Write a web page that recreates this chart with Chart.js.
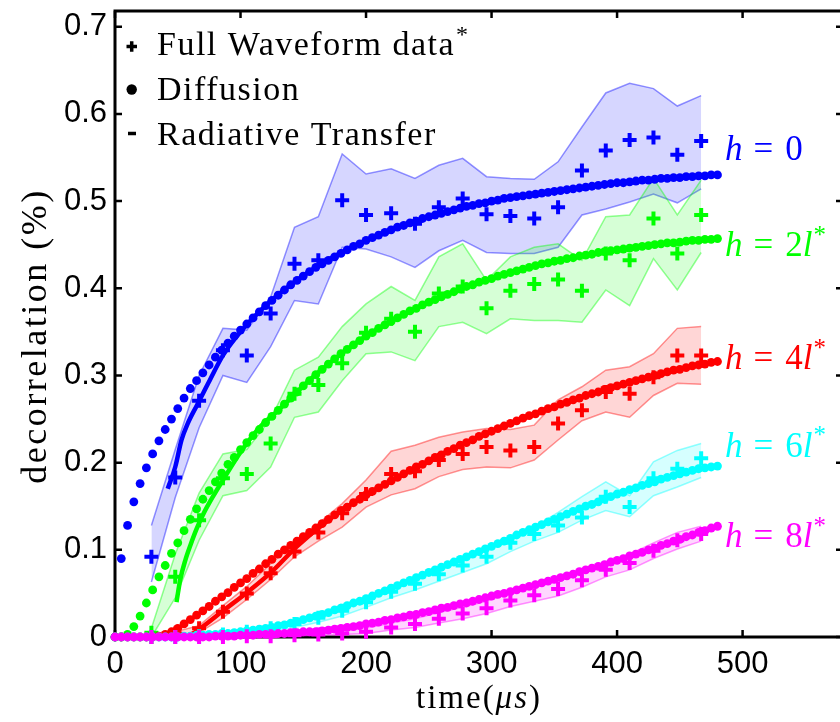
<!DOCTYPE html>
<html>
<head>
<meta charset="utf-8">
<title>Decorrelation versus time</title>
<style>
html, body {
	margin: 0;
	padding: 0;
	overflow: hidden;
	background: #fff;
}
#wrap {
	width: 843px;
	height: 722px;
}
</style>
</head>
<body>
<div id="wrap"><canvas id="chart" width="843" height="722"></canvas></div>
<script src="https://cdn.jsdelivr.net/npm/chart.js@4.4.1/dist/chart.umd.min.js"></script>
<script>
// times (us) of the full waveform measurements and of the diffusion curve
var waveTimes = [29, 48, 67, 86, 105, 124, 143, 162, 181, 200, 220, 239, 258, 277, 296, 315, 334, 353, 372, 391, 410, 429, 448, 467];
var diffTimes = [0, 5, 10, 15, 20, 25, 30, 35, 40, 45, 50, 55, 60, 65, 70, 75, 80, 85, 90, 95,
	100, 105, 110, 115, 120, 125, 130, 135, 140, 145, 150, 155, 160, 165, 170, 175, 180, 185, 190, 195,
	200, 205, 210, 215, 220, 225, 230, 235, 240, 245, 250, 255, 260, 265, 270, 275, 280, 285, 290, 295,
	300, 305, 310, 315, 320, 325, 330, 335, 340, 345, 350, 355, 360, 365, 370, 375, 380, 385, 390, 395,
	400, 405, 410, 415, 420, 425, 430, 435, 440, 445, 450, 455, 460, 465, 470, 475, 480];

// h = 0
var waveH0 = [0.092, 0.183, 0.271, 0.329, 0.323, 0.371, 0.428, 0.432, 0.501, 0.484, 0.486, 0.474, 0.493, 0.503, 0.485, 0.483, 0.480, 0.493, 0.535, 0.558, 0.570, 0.573, 0.553, 0.569];
var upperH0 = [0.128, 0.215, 0.300, 0.354, 0.352, 0.390, 0.470, 0.482, 0.554, 0.531, 0.537, 0.526, 0.541, 0.549, 0.528, 0.526, 0.525, 0.545, 0.585, 0.624, 0.635, 0.629, 0.609, 0.621];
var lowerH0 = [0.063, 0.160, 0.240, 0.300, 0.292, 0.333, 0.386, 0.382, 0.447, 0.445, 0.436, 0.424, 0.443, 0.455, 0.441, 0.440, 0.440, 0.447, 0.484, 0.491, 0.499, 0.508, 0.498, 0.514];
var diffH0 = [0, 0.090, 0.128, 0.155, 0.176, 0.194, 0.210, 0.225, 0.238, 0.250,
	0.262, 0.274, 0.285, 0.294, 0.303, 0.312, 0.321, 0.329, 0.337, 0.345,
	0.352, 0.359, 0.366, 0.373, 0.380, 0.386, 0.392, 0.398, 0.404, 0.409,
	0.414, 0.419, 0.424, 0.428, 0.432, 0.436, 0.440, 0.444, 0.448, 0.451,
	0.455, 0.458, 0.461, 0.464, 0.467, 0.470, 0.472, 0.475, 0.477, 0.480,
	0.482, 0.484, 0.486, 0.488, 0.490, 0.492, 0.494, 0.495, 0.497, 0.498,
	0.500, 0.501, 0.503, 0.504, 0.505, 0.506, 0.507, 0.508, 0.509, 0.510,
	0.511, 0.512, 0.513, 0.514, 0.515, 0.516, 0.517, 0.518, 0.519, 0.520,
	0.521, 0.521, 0.522, 0.523, 0.524, 0.524, 0.525, 0.526, 0.526, 0.527,
	0.527, 0.528, 0.528, 0.529, 0.529, 0.530, 0.530];
var rtTimesH0 = [42, 48, 53, 58, 65, 70, 76, 86, 100, 120, 140, 160, 200, 250, 300, 350, 400, 450, 480];
var rtH0 = [0.170, 0.195, 0.226, 0.245, 0.265, 0.279, 0.296, 0.323, 0.350, 0.380, 0.404, 0.424, 0.455, 0.482, 0.500, 0.511, 0.521, 0.527, 0.530];

// h = 2l*
var waveH2 = [0.005, 0.069, 0.134, 0.182, 0.187, 0.222, 0.279, 0.289, 0.314, 0.349, 0.365, 0.350, 0.394, 0.402, 0.377, 0.397, 0.405, 0.410, 0.397, 0.440, 0.432, 0.480, 0.440, 0.484];
var upperH2 = [0.010, 0.095, 0.165, 0.210, 0.215, 0.250, 0.306, 0.321, 0.356, 0.382, 0.402, 0.386, 0.436, 0.451, 0.409, 0.436, 0.447, 0.451, 0.432, 0.482, 0.484, 0.526, 0.484, 0.524];
var lowerH2 = [0.000, 0.045, 0.111, 0.162, 0.168, 0.195, 0.252, 0.258, 0.294, 0.325, 0.327, 0.317, 0.356, 0.361, 0.348, 0.365, 0.363, 0.363, 0.361, 0.398, 0.380, 0.434, 0.398, 0.441];
var diffH2 = [0, 0, 0.003, 0.012, 0.024, 0.039, 0.054, 0.069, 0.082, 0.096,
	0.108, 0.122, 0.135, 0.147, 0.158, 0.168, 0.178, 0.188, 0.198, 0.206,
	0.215, 0.223, 0.231, 0.238, 0.246, 0.253, 0.260, 0.267, 0.274, 0.281,
	0.288, 0.294, 0.301, 0.307, 0.313, 0.319, 0.325, 0.330, 0.335, 0.340,
	0.345, 0.349, 0.354, 0.358, 0.362, 0.366, 0.370, 0.374, 0.377, 0.381,
	0.384, 0.387, 0.390, 0.393, 0.396, 0.399, 0.402, 0.404, 0.407, 0.409,
	0.411, 0.414, 0.416, 0.418, 0.420, 0.422, 0.424, 0.426, 0.428, 0.429,
	0.431, 0.432, 0.434, 0.435, 0.437, 0.438, 0.439, 0.441, 0.442, 0.443,
	0.444, 0.445, 0.446, 0.447, 0.448, 0.449, 0.450, 0.451, 0.452, 0.452,
	0.453, 0.454, 0.455, 0.455, 0.456, 0.456, 0.457];
var rtTimesH2 = [49, 52, 56, 60, 65, 70, 78, 86, 100, 115, 130, 160, 200, 250, 300, 350, 400, 450, 480];
var rtH2 = [0.040, 0.066, 0.088, 0.105, 0.124, 0.140, 0.161, 0.180, 0.212, 0.240, 0.260, 0.301, 0.345, 0.384, 0.411, 0.431, 0.444, 0.453, 0.457];

// h = 4l*
var waveH4 = [0.000, 0.004, 0.010, 0.029, 0.050, 0.073, 0.098, 0.120, 0.142, 0.164, 0.187, 0.190, 0.203, 0.210, 0.218, 0.214, 0.218, 0.245, 0.260, 0.281, 0.279, 0.298, 0.323, 0.323];
var upperH4 = [0.000, 0.006, 0.013, 0.036, 0.058, 0.084, 0.107, 0.130, 0.153, 0.180, 0.213, 0.220, 0.229, 0.235, 0.239, 0.238, 0.243, 0.272, 0.287, 0.306, 0.310, 0.325, 0.354, 0.356];
var lowerH4 = [0.000, 0.002, 0.005, 0.022, 0.043, 0.066, 0.092, 0.110, 0.126, 0.149, 0.163, 0.170, 0.184, 0.192, 0.195, 0.194, 0.203, 0.226, 0.248, 0.258, 0.252, 0.277, 0.291, 0.290];
var diffH4 = [0, 0, 0, 0, 0, 0, 0, 0.001, 0.003, 0.006,
	0.010, 0.015, 0.020, 0.025, 0.030, 0.035, 0.041, 0.046, 0.051, 0.057,
	0.062, 0.067, 0.073, 0.078, 0.084, 0.089, 0.095, 0.100, 0.105, 0.110,
	0.115, 0.120, 0.125, 0.130, 0.135, 0.140, 0.145, 0.149, 0.154, 0.158,
	0.163, 0.167, 0.171, 0.175, 0.179, 0.183, 0.187, 0.191, 0.195, 0.198,
	0.202, 0.206, 0.209, 0.213, 0.216, 0.220, 0.223, 0.226, 0.230, 0.233,
	0.236, 0.239, 0.242, 0.245, 0.248, 0.251, 0.254, 0.256, 0.259, 0.262,
	0.264, 0.267, 0.269, 0.272, 0.274, 0.277, 0.279, 0.281, 0.284, 0.286,
	0.288, 0.290, 0.292, 0.294, 0.296, 0.298, 0.300, 0.302, 0.304, 0.306,
	0.307, 0.309, 0.311, 0.312, 0.313, 0.315, 0.316];
var rtTimesH4 = [55, 62, 70, 86, 106, 125, 145, 170, 200, 250, 300, 350, 400, 450, 480];
var rtH4 = [0.000, 0.004, 0.012, 0.030, 0.052, 0.075, 0.104, 0.134, 0.163, 0.202, 0.236, 0.264, 0.288, 0.307, 0.316];

// h = 6l*
var waveH6 = [0, 0, 0.001, 0.003, 0.006, 0.010, 0.015, 0.022, 0.030, 0.040, 0.052, 0.061, 0.072, 0.082, 0.092, 0.108, 0.118, 0.128, 0.137, 0.161, 0.149, 0.182, 0.193, 0.205];
var upperH6 = [0, 0, 0.002, 0.004, 0.008, 0.013, 0.019, 0.026, 0.035, 0.046, 0.058, 0.067, 0.079, 0.090, 0.100, 0.114, 0.126, 0.143, 0.161, 0.178, 0.162, 0.201, 0.214, 0.222];
var lowerH6 = [0, 0, 0.000, 0.002, 0.004, 0.007, 0.011, 0.017, 0.024, 0.034, 0.045, 0.054, 0.064, 0.074, 0.084, 0.098, 0.110, 0.120, 0.134, 0.145, 0.138, 0.162, 0.172, 0.183];
var diffH6 = [0, 0, 0, 0, 0, 0, 0, 0, 0, 0,
	0, 0.001, 0.001, 0.002, 0.002, 0.003, 0.003, 0.004, 0.004, 0.005,
	0.006, 0.007, 0.008, 0.009, 0.010, 0.011, 0.013, 0.014, 0.016, 0.018,
	0.020, 0.022, 0.024, 0.026, 0.028, 0.031, 0.033, 0.036, 0.039, 0.041,
	0.044, 0.047, 0.050, 0.053, 0.056, 0.059, 0.062, 0.065, 0.068, 0.071,
	0.074, 0.077, 0.080, 0.083, 0.086, 0.089, 0.092, 0.095, 0.098, 0.101,
	0.104, 0.107, 0.110, 0.113, 0.117, 0.120, 0.123, 0.126, 0.129, 0.132,
	0.135, 0.138, 0.141, 0.144, 0.147, 0.150, 0.152, 0.155, 0.158, 0.161,
	0.164, 0.166, 0.169, 0.171, 0.174, 0.176, 0.178, 0.181, 0.183, 0.185,
	0.187, 0.189, 0.191, 0.193, 0.194, 0.195, 0.196];
var rtTimesH6 = [60, 100, 150, 200, 250, 300, 350, 400, 450, 480];
var rtH6 = [0.000, 0.006, 0.020, 0.044, 0.074, 0.104, 0.135, 0.164, 0.187, 0.196];

// h = 8l*
var waveH8 = [0, 0, 0, 0, 0.001, 0.001, 0.002, 0.003, 0.004, 0.006, 0.011, 0.015, 0.021, 0.027, 0.033, 0.042, 0.048, 0.055, 0.065, 0.077, 0.085, 0.099, 0.111, 0.118];
var upperH8 = [0, 0, 0, 0.001, 0.002, 0.003, 0.004, 0.005, 0.007, 0.010, 0.016, 0.021, 0.028, 0.034, 0.041, 0.050, 0.057, 0.064, 0.074, 0.086, 0.095, 0.108, 0.120, 0.127];
var lowerH8 = [0, 0, 0, 0, 0, 0, 0.001, 0.002, 0.003, 0.004, 0.008, 0.011, 0.016, 0.021, 0.027, 0.035, 0.041, 0.047, 0.057, 0.069, 0.077, 0.090, 0.101, 0.110];
var diffH8 = [0, 0, 0, 0, 0, 0, 0, 0, 0, 0,
	0, 0, 0, 0, 0, 0, 0.001, 0.001, 0.001, 0.001,
	0.002, 0.002, 0.002, 0.003, 0.003, 0.003, 0.004, 0.004, 0.005, 0.005,
	0.006, 0.006, 0.006, 0.007, 0.008, 0.009, 0.010, 0.011, 0.012, 0.013,
	0.015, 0.016, 0.017, 0.019, 0.020, 0.022, 0.023, 0.025, 0.026, 0.028,
	0.029, 0.031, 0.033, 0.034, 0.036, 0.038, 0.039, 0.041, 0.043, 0.045,
	0.047, 0.049, 0.050, 0.052, 0.054, 0.056, 0.058, 0.060, 0.062, 0.064,
	0.066, 0.068, 0.070, 0.072, 0.075, 0.077, 0.079, 0.081, 0.083, 0.086,
	0.088, 0.090, 0.093, 0.095, 0.097, 0.100, 0.102, 0.105, 0.107, 0.110,
	0.112, 0.115, 0.117, 0.120, 0.122, 0.125, 0.127];
var rtTimesH8 = [80, 150, 200, 250, 300, 350, 400, 450, 480];
var rtH8 = [0.000, 0.006, 0.015, 0.029, 0.047, 0.066, 0.088, 0.112, 0.127];

var xTicks = [0, 100, 200, 300, 400, 500];
var yTicks = [0, 0.1, 0.2, 0.3, 0.4, 0.5, 0.6, 0.7];

var SERIF = '"Liberation Serif", "Times New Roman", serif';
var SANS = '"Liberation Sans", Arial, sans-serif';

var groups = [
	{ color: '#0000ff', rgb: '0,0,255', wave: waveH0, upper: upperH0, lower: lowerH0, diff: diffH0, rtT: rtTimesH0, rt: rtH0,
		label: [{ t: 'h', it: true }, { t: '=', op: true }, { t: '0' }], labelY: 0.547 },
	{ color: '#00ff00', rgb: '0,255,0', wave: waveH2, upper: upperH2, lower: lowerH2, diff: diffH2, rtT: rtTimesH2, rt: rtH2,
		label: [{ t: 'h', it: true }, { t: '=', op: true }, { t: '2' }, { t: 'l', it: true }, { t: '*', sup: true }], labelY: 0.437 },
	{ color: '#ff0000', rgb: '255,0,0', wave: waveH4, upper: upperH4, lower: lowerH4, diff: diffH4, rtT: rtTimesH4, rt: rtH4,
		label: [{ t: 'h', it: true }, { t: '=', op: true }, { t: '4' }, { t: 'l', it: true }, { t: '*', sup: true }], labelY: 0.307 },
	{ color: '#00ffff', rgb: '0,255,255', wave: waveH6, upper: upperH6, lower: lowerH6, diff: diffH6, rtT: rtTimesH6, rt: rtH6,
		label: [{ t: 'h', it: true }, { t: '=', op: true }, { t: '6' }, { t: 'l', it: true }, { t: '*', sup: true }], labelY: 0.207 },
	{ color: '#ff00ff', rgb: '255,0,255', wave: waveH8, upper: upperH8, lower: lowerH8, diff: diffH8, rtT: rtTimesH8, rt: rtH8,
		label: [{ t: 'h', it: true }, { t: '=', op: true }, { t: '8' }, { t: 'l', it: true }, { t: '*', sup: true }], labelY: 0.103 }
];

function toPoints(xs, ys) {
	return xs.map(function(x, i) { return { x: x, y: ys[i] }; });
}

var datasets = [];
// uncertainty bands first (lower edge, then upper edge filled down to it)
groups.forEach(function(g, c) {
	datasets.push({
		data: toPoints(waveTimes, g.lower),
		borderColor: 'rgba(' + g.rgb + ',0.42)',
		borderWidth: 1.5,
		pointRadius: 0,
		fill: false,
		order: 100 - 2 * c
	});
	datasets.push({
		data: toPoints(waveTimes, g.upper),
		borderColor: 'rgba(' + g.rgb + ',0.42)',
		borderWidth: 1.5,
		pointRadius: 0,
		backgroundColor: 'rgba(' + g.rgb + ',0.16)',
		fill: '-1',
		order: 99 - 2 * c
	});
});
// radiative transfer line, diffusion dots and waveform crosses, group by group
groups.forEach(function(g, c) {
	datasets.push({
		data: toPoints(g.rtT, g.rt),
		borderColor: g.color,
		borderWidth: 4.5,
		pointRadius: 0,
		cubicInterpolationMode: 'monotone',
		fill: false,
		order: 50 - 3 * c
	});
	datasets.push({
		data: toPoints(diffTimes, g.diff),
		showLine: false,
		pointStyle: 'circle',
		pointRadius: 4.4,
		pointBorderWidth: 0,
		pointBackgroundColor: g.color,
		order: 49 - 3 * c
	});
	datasets.push({
		data: toPoints(waveTimes, g.wave),
		showLine: false,
		pointStyle: 'cross',
		pointRadius: 7,
		pointBorderWidth: 4,
		pointBorderColor: g.color,
		order: 48 - 3 * c
	});
});
datasets.forEach(function(d) {
	d.clip = false;
	d.tension = 0;
});

// draws a run of text pieces (italic, superscript, spaced operator)
function drawRich(ctx, parts, x, y, size, spacing) {
	ctx.letterSpacing = (spacing || 0) + 'px';
	parts.forEach(function(p) {
		if (p.sup) {
			ctx.font = Math.round(size * 0.7) + 'px ' + SERIF;
			ctx.fillText(p.t, x + 1, y - size * 0.38);
			x += ctx.measureText(p.t).width + 1;
			return;
		}
		ctx.font = (p.it ? 'italic ' : '') + size + 'px ' + SERIF;
		if (p.op) x += 11;
		ctx.fillText(p.t, x, y);
		x += ctx.measureText(p.t).width;
		if (p.op) x += 12;
	});
	ctx.letterSpacing = '0px';
	return x;
}

var framePlugin = {
	id: 'frame',
	beforeDatasetsDraw: function(chart) {
		var ctx = chart.ctx, a = chart.chartArea;
		var xs = chart.scales.x, ys = chart.scales.y;
		var tl = 7;
		ctx.save();
		ctx.strokeStyle = '#000';
		ctx.lineWidth = 3;
		ctx.strokeRect(a.left, a.top, a.right - a.left, a.bottom - a.top);
		ctx.lineWidth = 2.5;
		ctx.beginPath();
		xTicks.forEach(function(v) {
			var px = xs.getPixelForValue(v);
			ctx.moveTo(px, a.bottom); ctx.lineTo(px, a.bottom - tl);
			ctx.moveTo(px, a.top); ctx.lineTo(px, a.top + tl);
		});
		yTicks.forEach(function(v) {
			var py = ys.getPixelForValue(v);
			ctx.moveTo(a.left, py); ctx.lineTo(a.left + tl, py);
			ctx.moveTo(a.right, py); ctx.lineTo(a.right - tl, py);
		});
		ctx.stroke();
		ctx.restore();
	},
	afterDraw: function(chart) {
		var ctx = chart.ctx, a = chart.chartArea;
		var ys = chart.scales.y;
		ctx.save();
		ctx.fillStyle = '#000';
		ctx.textBaseline = 'alphabetic';

		// legend
		ctx.strokeStyle = '#000';
		ctx.lineWidth = 3.5;
		ctx.beginPath();
		ctx.moveTo(126.5, 46.5); ctx.lineTo(137, 46.5);
		ctx.moveTo(131.7, 41.2); ctx.lineTo(131.7, 51.8);
		ctx.moveTo(128, 133.5); ctx.lineTo(136, 133.5);
		ctx.stroke();
		ctx.beginPath();
		ctx.arc(131.7, 89.5, 5.2, 0, Math.PI * 2);
		ctx.fill();
		var lx = drawRich(ctx, [{ t: 'Full Waveform data' }], 157, 55, 34, 1.5);
		drawRich(ctx, [{ t: '*', sup: true }], lx, 55, 34);
		drawRich(ctx, [{ t: 'Diffusion' }], 157, 100, 34, 1.5);
		drawRich(ctx, [{ t: 'Radiative Transfer' }], 157, 145, 34, 1.5);

		// curve labels at the right end
		groups.forEach(function(g) {
			ctx.fillStyle = g.color;
			drawRich(ctx, g.label, 725, ys.getPixelForValue(g.labelY), 35);
		});

		// axis titles
		ctx.fillStyle = '#000';
		ctx.letterSpacing = '2px';
		var tw = 0;
		ctx.font = '33px ' + SERIF;
		tw += ctx.measureText('time()').width;
		ctx.font = 'italic 33px ' + SERIF;
		tw += ctx.measureText('\u03bcs').width;
		var cx = (a.left + a.right) / 2 - tw / 2;
		drawRich(ctx, [{ t: 'time(' }, { t: '\u03bcs', it: true }, { t: ')' }], cx, 708, 33, 2);

		ctx.translate(37, (a.top + a.bottom) / 2 + 12);
		ctx.rotate(-Math.PI / 2);
		ctx.font = '36px ' + SERIF;
		ctx.letterSpacing = '2.5px';
		ctx.textAlign = 'center';
		ctx.textBaseline = 'middle';
		ctx.fillText('decorrelation (%)', 0, 0);
		ctx.restore();
	}
};

new Chart(document.getElementById('chart'), {
	type: 'line',
	data: { datasets: datasets },
	plugins: [framePlugin],
	options: {
		responsive: false,
		animation: false,
		events: [],
		layout: { autoPadding: false, padding: { top: 11, left: 0, right: 0, bottom: 0 } },
		plugins: {
			legend: { display: false },
			tooltip: { enabled: false }
		},
		scales: {
			x: {
				type: 'linear',
				min: 0,
				max: 580,
				grid: { display: false, drawTicks: false },
				border: { display: false },
				ticks: {
					stepSize: 100,
					includeBounds: false,
					color: '#000',
					padding: 9,
					font: { family: SANS, size: 31 },
					callback: function(v) { return xTicks.indexOf(v) >= 0 ? String(v) : ''; }
				},
				afterFit: function(scale) {
					scale.height = 85;
					scale.paddingLeft = 0;
					scale.paddingRight = 0;
				}
			},
			y: {
				type: 'linear',
				min: 0,
				max: 0.718,
				grid: { display: false, drawTicks: false },
				border: { display: false },
				ticks: {
					stepSize: 0.1,
					includeBounds: false,
					color: '#000',
					padding: 8,
					font: { family: SANS, size: 31 },
					callback: function(v) { return v === 0 ? '0' : v.toFixed(1); }
				},
				afterFit: function(scale) {
					scale.width = 115;
					scale.paddingTop = 0;
					scale.paddingBottom = 0;
				}
			}
		}
	}
});
</script>
</body>
</html>
